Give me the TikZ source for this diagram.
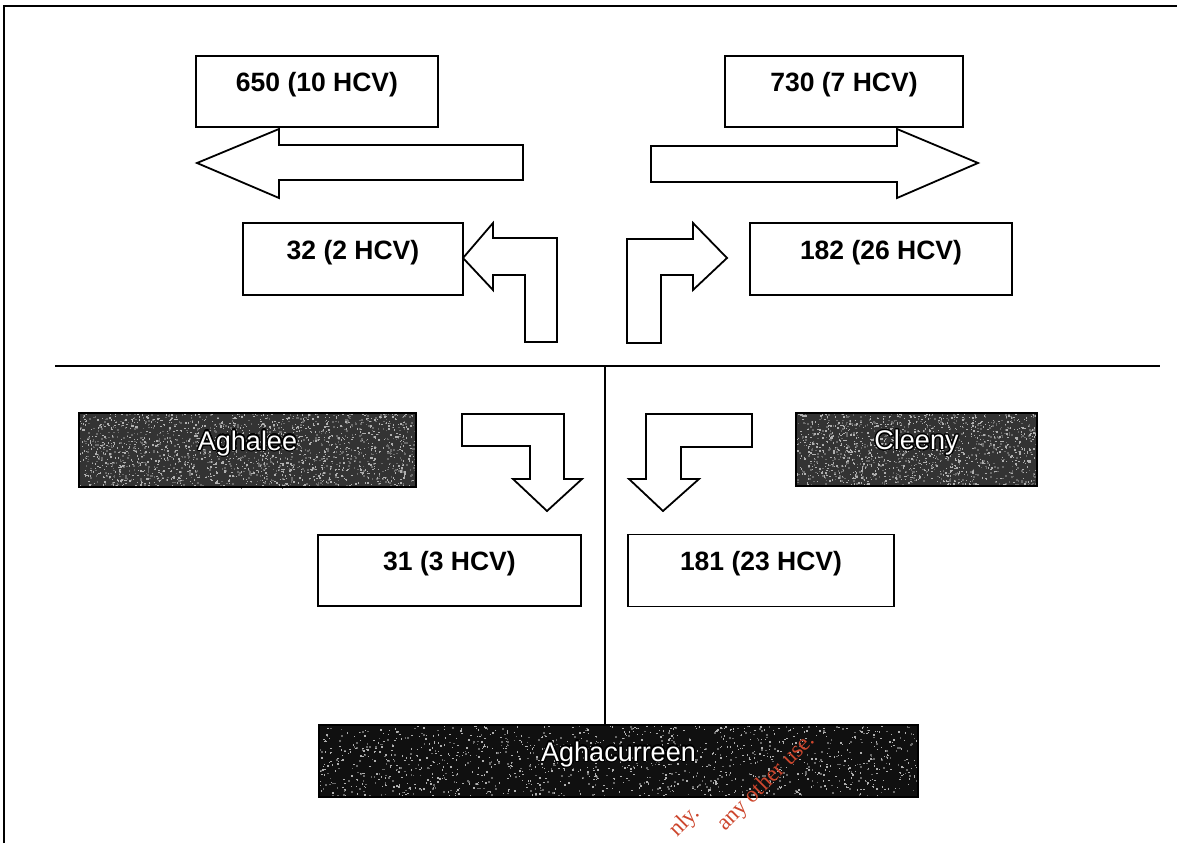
\documentclass[tikz,border=0pt]{standalone}
\usepackage{fontspec}
\setmainfont{Liberation Sans}
\newfontfamily\wmfont{Liberation Serif}
\usepackage[copies]{contour}
\contourlength{1.3pt}
\contournumber{16}
\definecolor{darkA}{HTML}{333333}
\definecolor{darkB}{HTML}{101010}
\definecolor{specklecol}{HTML}{B0B0B0}
\definecolor{specklecolb}{HTML}{6A6A6A}
\definecolor{wmred}{HTML}{CD462D}
\newcommand{\mySpeckles}[5]{%
  \foreach \k in {1,...,#5}{\fill[specklecol] ({#1+#3*rnd},{#2+#4*rnd}) rectangle ++(1.4,1.4);}}
\newcommand{\mySpecklesB}[5]{%
  \foreach \k in {1,...,#5}{\fill[specklecolb] ({#1+#3*rnd},{#2+#4*rnd}) rectangle ++(1.6,1.6);}}
\begin{document}
\begin{tikzpicture}[x=1pt,y=-1pt,
  numbox/.style={draw=black, line width=1.8pt, fill=white, inner sep=0pt,
    text height=10pt, text depth=10pt,
    font=\fontsize{26.5}{30}\selectfont\bfseries},
  darkbox/.style={draw=black, line width=1.6pt, inner sep=0pt, text=white,
    text height=10pt, text depth=10pt,
    font=\fontsize{27}{30}\selectfont},
  blockarrow/.style={draw=black, line width=1.8pt, fill=white, line join=miter},
  rule/.style={draw=black, line width=1.8pt},
  wm/.style={text=wmred, font=\wmfont\fontsize{23}{26}\selectfont, inner sep=0pt}
]
\pgfmathsetseed{4242}
\useasboundingbox (0,0) rectangle (1177,843);
\fill[white] (0,0) rectangle (1177,843);

% frame
\draw[line width=2.4pt] (4,843) -- (4,6) -- (1177,6);

% top boxes
\node[numbox, minimum width=242pt, minimum height=71pt] (n650) at (317,91.5) {650 (10 HCV)};
\node[numbox, minimum width=238pt, minimum height=71pt] (n730) at (844,91.5) {730 (7 HCV)};
\node[numbox, minimum width=220pt, minimum height=72pt] (n32) at (353,259) {32 (2 HCV)};
\node[numbox, minimum width=262pt, minimum height=72pt] (n182) at (881,259) {182 (26 HCV)};

% straight block arrows
\draw[blockarrow] (197,163) -- (279,129) -- (279,145) -- (523,145) -- (523,180)
  -- (279,180) -- (279,198) -- cycle;
\draw[blockarrow] (978,163) -- (897,129) -- (897,146) -- (651,146) -- (651,182)
  -- (897,182) -- (897,198) -- cycle;

% bent block arrows (top)
\coordinate (tipL) at (463,258);
\coordinate (tipR) at (727,258);
\draw[blockarrow] (tipL) -- (493,223) -- (493,238) -- (557,238) -- (557,342)
  -- (525,342) -- (525,275) -- (493,275) -- (493,290) -- cycle;
\draw[blockarrow] (tipR) -- (693,223) -- (693,239) -- (627,239) -- (627,343)
  -- (661,343) -- (661,275) -- (693,275) -- (693,290) -- cycle;

% divider lines
\coordinate (hl) at (55,366);
\coordinate (hr) at (1160,366);
\coordinate (junction) at (605,366);
\draw[rule] (hl) -- (hr);

% lower boxes
\node[numbox, minimum width=263pt, minimum height=71pt] (n31) at (449.5,570.5) {31 (3 HCV)};
\node[numbox, minimum width=266pt, minimum height=72pt] (n181) at (761,570.5) {181 (23 HCV)};

% bent block arrows (bottom)
\draw[blockarrow] (462,414) -- (564,414) -- (564,479) -- (582,479) -- (547,511)
  -- (513,479) -- (530,479) -- (530,446) -- (462,446) -- cycle;
\draw[blockarrow] (752,414) -- (646,414) -- (646,479) -- (629,479) -- (663,511)
  -- (699,479) -- (681,479) -- (681,447) -- (752,447) -- cycle;

% dark boxes
\fill[darkA] (79,413) rectangle (416,487);
\mySpecklesB{79}{413}{337}{74}{900}
\mySpeckles{79}{413}{337}{74}{1200}
\node[darkbox, minimum width=337pt, minimum height=74pt] (aghalee) at (247.5,450) {\contour{black}{Aghalee}};

\fill[darkA] (796,413) rectangle (1037,486);
\mySpecklesB{796}{413}{241}{73}{650}
\mySpeckles{796}{413}{241}{73}{850}
\node[darkbox, minimum width=241pt, minimum height=73pt] (cleeny) at (916.5,449.5) {\contour{black}{Cleeny}};

\fill[darkB] (319,725) rectangle (918,797);
\mySpecklesB{319}{725}{599}{72}{500}
\mySpeckles{319}{725}{599}{72}{900}
\node[darkbox, minimum width=599pt, minimum height=72pt] (agc) at (618.5,761) {\contour{black}{Aghacurreen}};

\draw[rule] (junction) -- (junction |- agc.north);

% watermark fragments
\node[wm, rotate=45, anchor=base east] (wm1) at (701,814) {nly.};
\node[wm, rotate=45, anchor=base east] (wm2) at (816,741) {any other use.};
\end{tikzpicture}
\end{document}
